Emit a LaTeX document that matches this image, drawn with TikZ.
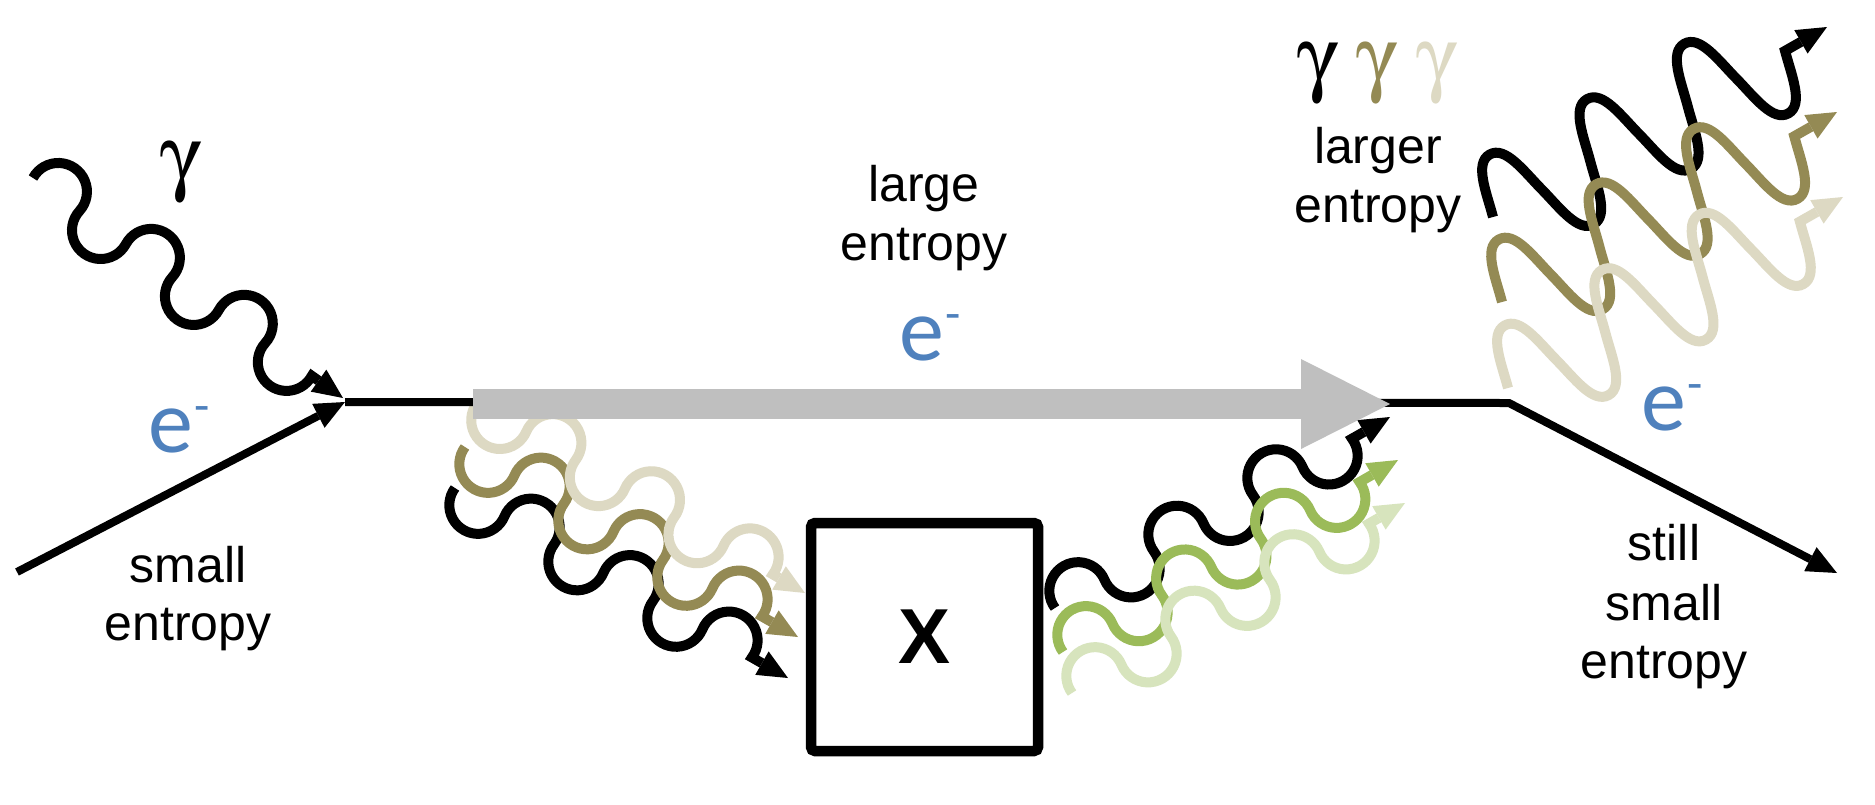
\documentclass[tikz,border=0pt]{standalone}
\usepackage[Symbol]{upgreek}
\usepackage{fontspec}
\setmainfont{Liberation Sans}
\newfontfamily\calfont{Carlito}
\usetikzlibrary{arrows.meta,decorations}

\definecolor{olivec}{HTML}{948A54}
\definecolor{tanc}{HTML}{DDD9C3}
\definecolor{greenc}{HTML}{9BBB59}
\definecolor{lgreenc}{HTML}{D7E4BD}
\definecolor{bluec}{HTML}{4F81BD}
\definecolor{grayc}{HTML}{BFBFBF}

% chain of circular arcs (a little more than half circles)
\pgfdeclaredecoration{loopwave}{up}{%
  \state{up}[switch if less than=+56.98pt to final, width=+56.98pt, next state=down]{%
    \pgfpathcurveto{\pgfqpoint{-1.35pt}{11.01pt}}{\pgfqpoint{3.77pt}{21.82pt}}{\pgfqpoint{13.14pt}{27.75pt}}%
    \pgfpathcurveto{\pgfqpoint{22.52pt}{33.68pt}}{\pgfqpoint{34.47pt}{33.68pt}}{\pgfqpoint{43.84pt}{27.75pt}}%
    \pgfpathcurveto{\pgfqpoint{53.21pt}{21.82pt}}{\pgfqpoint{58.33pt}{11.01pt}}{\pgfqpoint{56.98pt}{0pt}}%
  }%
  \state{down}[switch if less than=+56.98pt to final, width=+56.98pt, next state=up]{%
    \pgfpathcurveto{\pgfqpoint{-1.35pt}{-11.01pt}}{\pgfqpoint{3.77pt}{-21.82pt}}{\pgfqpoint{13.14pt}{-27.75pt}}%
    \pgfpathcurveto{\pgfqpoint{22.52pt}{-33.68pt}}{\pgfqpoint{34.47pt}{-33.68pt}}{\pgfqpoint{43.84pt}{-27.75pt}}%
    \pgfpathcurveto{\pgfqpoint{53.21pt}{-21.82pt}}{\pgfqpoint{58.33pt}{-11.01pt}}{\pgfqpoint{56.98pt}{0pt}}%
  }%
  \state{final}{\pgfpathlineto{\pgfpointdecoratedpathlast}}%
}

% tall smooth lobes with rounded tops
\pgfdeclaredecoration{lobewave}{up}{%
  \state{up}[switch if less than=+56pt to final, width=+56pt, next state=down]{%
    \pgfpathcurveto{\pgfqpoint{6.47pt}{24.15pt}}{\pgfqpoint{10pt}{56pt}}{\pgfqpoint{28pt}{56pt}}%
    \pgfpathcurveto{\pgfqpoint{46pt}{56pt}}{\pgfqpoint{49.53pt}{24.15pt}}{\pgfqpoint{56pt}{0pt}}%
  }%
  \state{down}[switch if less than=+56pt to final, width=+56pt, next state=up]{%
    \pgfpathcurveto{\pgfqpoint{6.47pt}{-24.15pt}}{\pgfqpoint{10pt}{-56pt}}{\pgfqpoint{28pt}{-56pt}}%
    \pgfpathcurveto{\pgfqpoint{46pt}{-56pt}}{\pgfqpoint{49.53pt}{-24.15pt}}{\pgfqpoint{56pt}{0pt}}%
  }%
  \state{final}{\pgfpathlineto{\pgfpointdecoratedpathlast}}%
}

\newcommand\esup{\kern2pt\raisebox{30pt}{\fontsize{50}{50}\selectfont -}}

\tikzset{
  tipx/.tip={Triangle[length=30pt,width=27pt,line width=0pt]},
  photon/.style={line width=10pt, decorate, decoration={loopwave}, -tipx},
  sphoton/.style={line width=10pt, decorate, decoration={lobewave}, -tipx},
  eline/.style={line width=8pt, -tipx},
  lbl/.style={font=\fontsize{50}{59}\selectfont, inner sep=0pt, anchor=base},
  elbl/.style={font=\calfont\fontsize{90}{92}\selectfont, text=bluec,
    inner sep=0pt, anchor=base west},
  glbl/.style={font=\fontsize{85}{90}\selectfont, inner sep=0pt},
  boxx/.style={draw, line width=10.5pt, rounded corners=4pt, minimum width=227pt,
    minimum height=228pt, inner sep=0pt, font=\bfseries\fontsize{78}{80}\selectfont},
}

\begin{document}
\begin{tikzpicture}[x=1pt,y=-1pt]
\fill[white] (0,0) rectangle (1875,804);
\useasboundingbox (0,0) rectangle (1875,804);

% coordinates
\coordinate (ein) at (17,572);
\coordinate (v) at (345,402);
\coordinate (kink) at (1509,403);
\coordinate (eout) at (1837,573);
\coordinate (gs) at (33,178);
\coordinate (gt) at (343,398);
\coordinate (ga) at (473,404);
\coordinate (gb) at (1390,404);

\coordinate (i1s) at (455,488);  \coordinate (i1t) at (788,678);
\coordinate (i2s) at (465,447);  \coordinate (i2t) at (798,637);
\coordinate (i3s) at (477,403);  \coordinate (i3t) at (805,593);

\coordinate (o1s) at (1055,608); \coordinate (o1t) at (1390,417);
\coordinate (o2s) at (1063,652); \coordinate (o2t) at (1398,460);
\coordinate (o3s) at (1072,693); \coordinate (o3t) at (1405,503);

\coordinate (r1s) at (1493,217); \coordinate (r1t) at (1827,27);
\coordinate (r2s) at (1502,302); \coordinate (r2t) at (1837,112);
\coordinate (r3s) at (1508,388); \coordinate (r3t) at (1843,197);

% photons into X
\draw[photon, black, decoration={mirror}] (i1s) -- (i1t);
\draw[photon, olivec, decoration={mirror}] (i2s) -- (i2t);
\draw[photon, tanc, decoration={mirror}] (i3s) -- (i3t);

% photons out of X
\draw[photon, black] (o1s) -- (o1t);
\draw[photon, greenc] (o2s) -- (o2t);
\draw[photon, lgreenc] (o3s) -- (o3t);

% incoming photon
\draw[photon, black] (gs) -- (gt);

% outgoing photons
\draw[sphoton, black] (r1s) -- (r1t);
\draw[sphoton, olivec] (r2s) -- (r2t);
\draw[sphoton, tanc] (r3s) -- (r3t);

% electron
\draw[eline] (ein) -- (v);
\draw[eline, line join=miter] (v) -- (kink) -- (eout);

% large grey arrow
\draw[grayc, line width=30pt, -{Triangle[length=89pt,width=90pt,line width=0pt]}] (ga) -- (gb);

% box
\node[boxx] (box) at (924.5,637) {X};

% labels
\node[glbl] (gam) at (181,173) {$\upgamma$};
\node[glbl] (gam1) at (1318,74) {$\upgamma$};
\node[glbl, text=olivec] (gam2) at (1377,74) {$\upgamma$};
\node[glbl, text=tanc] (gam3) at (1437,74) {$\upgamma$};

\node[elbl] (e1) at (148,452) {e\esup};
\node[elbl] (e2) at (899,360) {e\esup};
\node[elbl] (e3) at (1641,430) {e\esup};

\node[lbl] (large1) at (924,201) {large};
\node[lbl] (large2) at (924,260) {entropy};
\node[lbl] (small1) at (188,582) {small};
\node[lbl] (small2) at (188,640) {entropy};
\node[lbl] (larger1) at (1378,163) {larger};
\node[lbl] (larger2) at (1378,222) {entropy};
\node[lbl] (still1) at (1664,560) {still};
\node[lbl] (still2) at (1664,620) {small};
\node[lbl] (still3) at (1664,678) {entropy};
\end{tikzpicture}
\end{document}
